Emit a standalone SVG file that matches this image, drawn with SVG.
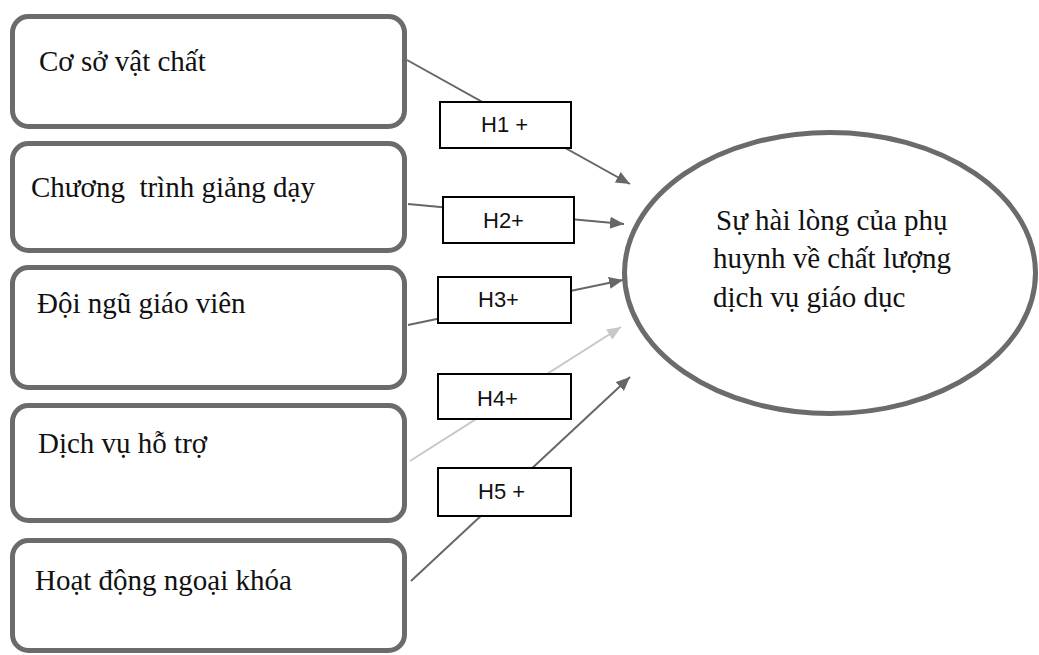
<svg xmlns="http://www.w3.org/2000/svg" width="1039" height="655" viewBox="0 0 1039 655">
<style>
  .box { fill: #ffffff; stroke: #6b6b6b; stroke-width: 5; }
  .lbl { fill: #ffffff; stroke: #000000; stroke-width: 2; }
  .t { font-family: "Liberation Serif", "Times New Roman", serif; font-size: 29px; fill: #111111; white-space: pre; }
  .h { font-family: "Liberation Sans", Arial, sans-serif; font-size: 22px; fill: #111111; white-space: pre; }
  .c { stroke: #666666; stroke-width: 2; fill: none; }
  .cl { stroke: #c8c8c8; stroke-width: 2; fill: none; }
</style>
<defs>
  <marker id="ad" markerUnits="userSpaceOnUse" markerWidth="15" markerHeight="13" refX="14" refY="6" orient="auto">
    <path d="M0,0 L14,6 L0,12 z" fill="#666666"/>
  </marker>
  <marker id="al" markerUnits="userSpaceOnUse" markerWidth="15" markerHeight="13" refX="14" refY="6" orient="auto">
    <path d="M0,0 L14,6 L0,12 z" fill="#c8c8c8"/>
  </marker>
</defs>
<rect x="0" y="0" width="1039" height="655" fill="#ffffff"/>
<g id="connectors">
  <line class="c" x1="407" y1="60" x2="630" y2="184" marker-end="url(#ad)"/>
  <line class="c" x1="408" y1="204" x2="624" y2="224" marker-end="url(#ad)"/>
  <line class="c" x1="408" y1="325" x2="623" y2="280" marker-end="url(#ad)"/>
  <line class="cl" x1="410" y1="461" x2="621" y2="327" marker-end="url(#al)"/>
  <line class="c" x1="411" y1="581" x2="630" y2="377" marker-end="url(#ad)"/>
</g>
<g id="n1">
  <rect class="box" x="12.5" y="16.5" width="392" height="110" rx="16"/>
  <text class="t" x="39" y="71">Cơ sở vật chất</text>
</g>
<g id="n2">
  <rect class="box" x="12.5" y="143.5" width="392" height="107" rx="16"/>
  <text class="t" x="31" y="197" xml:space="preserve">Chương  trình giảng dạy</text>
</g>
<g id="n3">
  <rect class="box" x="12.5" y="267.5" width="392" height="120" rx="16"/>
  <text class="t" x="37" y="313">Đội ngũ giáo viên</text>
</g>
<g id="n4">
  <rect class="box" x="12.5" y="405.5" width="392" height="115" rx="16"/>
  <text class="t" x="38" y="453">Dịch vụ hỗ trợ</text>
</g>
<g id="n5">
  <rect class="box" x="12.5" y="540.5" width="392" height="110" rx="16"/>
  <text class="t" x="35" y="590">Hoạt động ngoại khóa</text>
</g>
<g id="h1">
  <rect class="lbl" x="440" y="102" width="131" height="46"/>
  <text class="h" x="481" y="132">H1 +</text>
</g>
<g id="h2">
  <rect class="lbl" x="443" y="197" width="131" height="46"/>
  <text class="h" x="483" y="228">H2+</text>
</g>
<g id="h3">
  <rect class="lbl" x="438" y="277" width="133" height="46"/>
  <text class="h" x="478" y="307">H3+</text>
</g>
<g id="h4">
  <rect class="lbl" x="438" y="374" width="133" height="45"/>
  <text class="h" x="477" y="406">H4+</text>
</g>
<g id="h5">
  <rect class="lbl" x="438" y="468" width="133" height="48"/>
  <text class="h" x="478" y="499">H5 +</text>
</g>
<g id="outcome">
  <ellipse class="box" cx="830" cy="273" rx="205.5" ry="140.5"/>
  <text class="t" x="716" y="230">Sự hài lòng của phụ</text>
  <text class="t" x="713" y="268">huynh về chất lượng</text>
  <text class="t" x="713" y="307">dịch vụ giáo dục</text>
</g>
</svg>
